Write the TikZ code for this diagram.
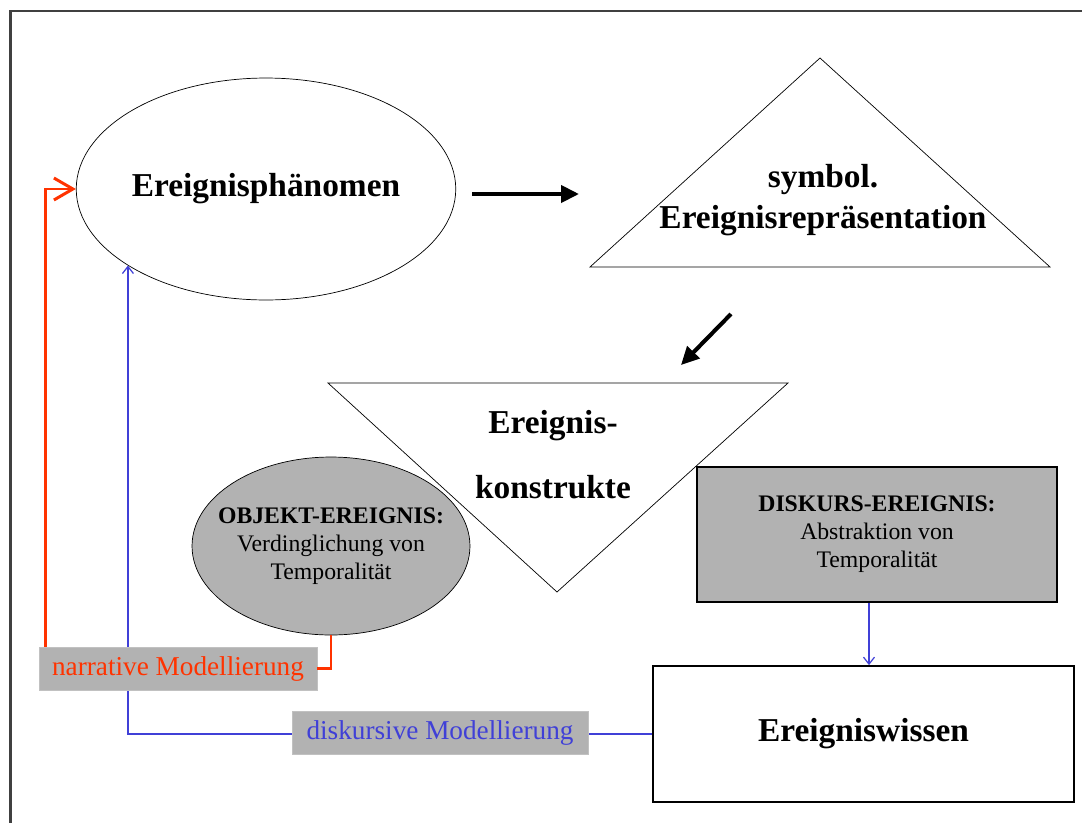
\documentclass[tikz,border=0pt]{standalone}
\usepackage{fontspec}
\setmainfont{Liberation Serif}
\usetikzlibrary{shapes.geometric,arrows.meta}
\definecolor{modred}{RGB}{255,51,0}
\definecolor{modblue}{RGB}{64,64,215}
\definecolor{boxgray}{RGB}{178,178,178}

\begin{document}
\begin{tikzpicture}[x=0.02cm,y=-0.02cm,
  big/.style={font=\fontsize{19}{23}\selectfont\bfseries},
  small/.style={font=\fontsize{13.5}{16}\selectfont},
  redline/.style={modred,line width=1.7pt},
  blueline/.style={modblue,line width=0.7pt},
  fat/.style={line width=2.3pt,-{Triangle[length=0.36cm,width=0.34cm]}},
  modlabel/.style={fill=boxgray,draw=boxgray!80,inner sep=0pt,minimum height=0.86cm,
    font=\fontsize{15.5}{18}\selectfont}]
  \useasboundingbox (0,0) rectangle (1082,822);
  \fill[white] (0,0) rectangle (1082,822);
  % frame
  \draw[line width=1.7pt,black!75] (10.5,840) |- (1100,11);

  \node[ellipse,draw,thin,minimum width=7.54cm,minimum height=4.44cm,inner sep=0pt,big] (phen) at (266,189) {Ereignisphänomen};

  % symbol. Ereignisrepraesentation
  \coordinate (st) at (820,58);
  \coordinate (sl) at (590,267);
  \coordinate (sr) at (1050,267);
  \draw[thin] (st) -- (sl) -- (sr) -- cycle;
  \node[big,align=center] (sym) at (823,200) {symbol.\\Ereignisrepräsentation};

  \node[ellipse,draw,thin,fill=boxgray,minimum width=5.56cm,minimum height=3.56cm,inner sep=0pt] (obj) at (331,546) {};
  \node[small,align=center] (objtxt) at (obj.center) {\textbf{OBJEKT-EREIGNIS:}\\Verdinglichung von\\Temporalität};

  % Ereigniskonstrukte
  \coordinate (kl) at (328,383);
  \coordinate (kr) at (788,383);
  \coordinate (kb) at (557,592);
  \draw[thin] (kl) -- (kr) -- (kb) -- cycle;
  \node[big,align=center] (kon) at (553,455) {Ereignis-\\[14pt]konstrukte};

  \node[draw,line width=1pt,fill=boxgray,minimum width=7.2cm,minimum height=2.7cm,inner sep=0pt,
    small,align=center] (dis) at (877,534.5) {\textbf{DISKURS-EREIGNIS:}\\Abstraktion von\\Temporalität};
  \node[draw,line width=1pt,fill=white,minimum width=8.42cm,minimum height=2.72cm,big] (wis) at (863.5,734) {Ereigniswissen};

  % arrows
  \coordinate (a1) at (472,194);
  \coordinate (a2) at (579,194);
  \draw[fat] (a1) -- (a2);
  \coordinate (b1) at (731,314);
  \coordinate (b2) at (681,365);
  \draw[fat] (b1) -- (b2);

  \coordinate (dx) at (869,0);
  \draw[blueline,-{Straight Barb[length=0.14cm,width=0.22cm]}] (dis.south -| dx) -- (wis.north -| dx);
  \draw[blueline,-{Straight Barb[length=0.14cm,width=0.22cm]}] (wis.west) -| (phen.209.5);

  \node[modlabel,text=modred,minimum width=5.56cm] (nmod) at (178,668.5) {narrative Modellierung};
  \node[modlabel,text=modblue,minimum width=5.92cm] (dmod) at (440,732.5) {diskursive Modellierung};

  \draw[redline] (obj.south) |- (nmod.east);
  \draw[redline,-{Straight Barb[length=0.38cm,width=0.44cm]}] ([xshift=0.14cm]nmod.north west) |- (phen.west);
\end{tikzpicture}
\end{document}
